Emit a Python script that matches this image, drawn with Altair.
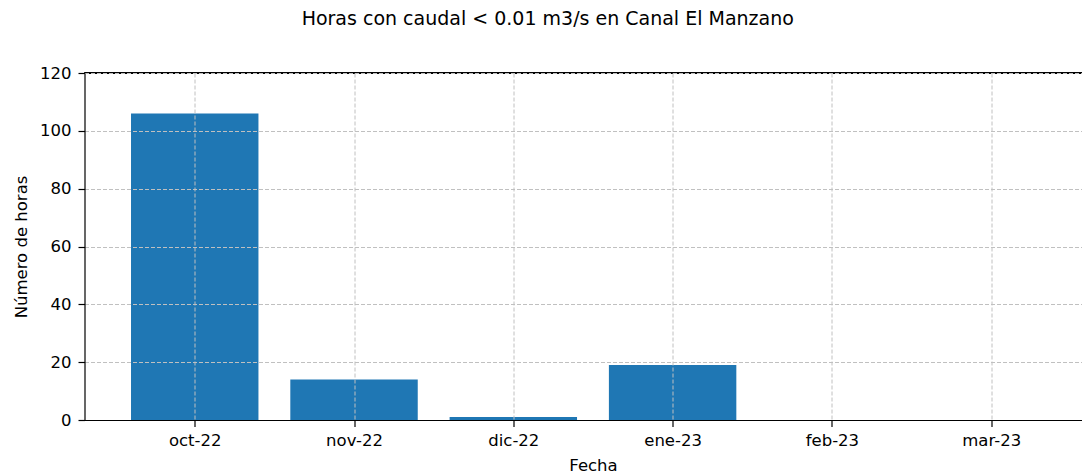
import json
import altair as alt
import pandas as pd

categories = ["oct-22", "nov-22", "dic-22", "ene-23", "feb-23", "mar-23"]
hours = [106, 14, 1, 19, 0, 0]
y_ticks = [0, 20, 40, 60, 80, 100, 120]

df = pd.DataFrame({"idx": list(range(len(categories))), "mes": categories, "horas": hours})

FONT = "DejaVu Sans"
label_expr = json.dumps(categories) + "[datum.value]"

x_scale = alt.Scale(domain=[-0.692, 5.570], nice=False, zero=False)
y_scale = alt.Scale(domain=[0, 120], nice=False)

bars = alt.Chart(df).transform_calculate(
    x0="datum.idx - 0.4", x1="datum.idx + 0.4"
).mark_bar(color="#1f77b4", clip=True).encode(
    x=alt.X("x0:Q", scale=x_scale, axis=alt.Axis(
        values=list(range(len(categories))), labelExpr=label_expr,
        title="Fecha", titleFontSize=16.5, titleFontWeight="normal", titleFont=FONT,
        titleX=508.5, titleY=50, titleBaseline="alphabetic", titleAlign="center",
        labelFont=FONT, labelFontSize=16.5, labelColor="black", labelBaseline="alphabetic",
        labelPadding=19, tickSize=6.5, tickColor="black", tickWidth=1.2,
        domainColor="black", domainWidth=1.2,
        grid=True, gridColor="#c0c0c0", gridDash=[4, 2], gridWidth=1,
        zindex=1, labelFlush=False, labelOverlap=False,
    )),
    x2="x1:Q",
    y=alt.Y("horas:Q", scale=y_scale, axis=alt.Axis(
        values=y_ticks,
        title="Número de horas", titleFontSize=16.5, titleFontWeight="normal", titleFont=FONT,
        titleX=-58.5, titleY=173.5, titleAngle=270, titleBaseline="alphabetic", titleAlign="center",
        labelFont=FONT, labelFontSize=16.5, labelColor="black", labelPadding=7,
        tickSize=6.5, tickColor="black", tickWidth=1.2,
        domainColor="black", domainWidth=1.2,
        grid=True, gridColor="#c0c0c0", gridDash=[4, 2], gridWidth=1,
        zindex=1, labelFlush=False, labelOverlap=False,
    )),
    y2=alt.datum(0),
)

top_spine = alt.Chart(df).mark_rule(color="black", strokeWidth=1.2).encode(
    y=alt.datum(120, scale=y_scale)
)

chart = alt.layer(bars, top_spine).properties(
    width=997.5,
    height=347,
    autosize=alt.AutoSizeParams(type="none"),
    padding={"left": 76.5, "top": 65, "right": 0, "bottom": 52},
    title=alt.TitleParams(
        "Horas con caudal < 0.01 m3/s en Canal El Manzano",
        font=FONT, fontSize=19, fontWeight="normal", color="black",
        anchor="middle", frame="group", offset=36, dx=-35.5,
    ),
).configure_view(stroke=None)

chart.save("out.html", embed_options={"renderer": "svg", "actions": False})
